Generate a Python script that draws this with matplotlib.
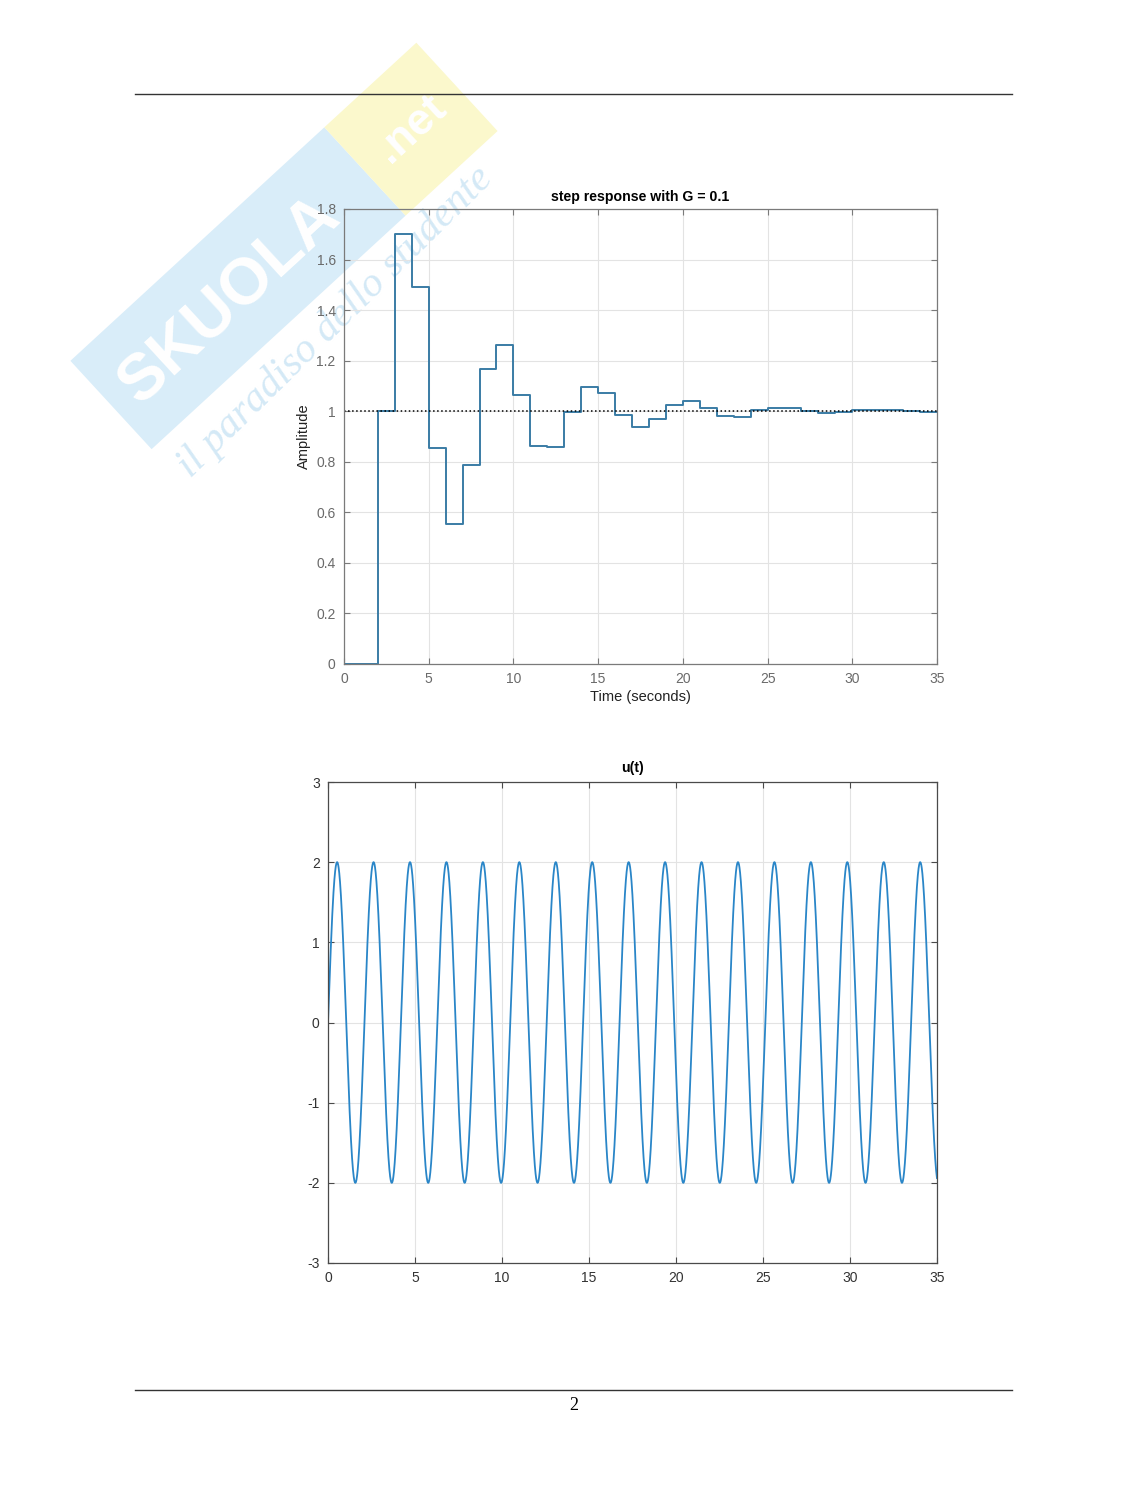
import matplotlib
matplotlib.use("Agg")
from matplotlib import pyplot as plt
from matplotlib.patches import Polygon
from matplotlib.lines import Line2D
from matplotlib.ticker import FormatStrFormatter
import numpy as np

# step response (one level per 1 s sample, held until next sample)
step_time = list(range(0, 36))
step_level = [0.0, 0.0, 1.0, 1.701, 1.490, 0.855, 0.555, 0.789, 1.167, 1.263,
              1.066, 0.864, 0.858, 0.996, 1.096, 1.074, 0.987, 0.938, 0.971, 1.024,
              1.039, 1.012, 0.983, 0.979, 1.004, 1.014, 1.011, 1.001, 0.993, 0.997,
              1.004, 1.006, 1.003, 0.999, 0.998, 0.998]
step_ref = 1.0

# u(t): amplitude 2, about 16.7 periods over 35 s
u_amp = 2.0
u_omega = 3.0
u_tmax = 35

W, H = 1148, 1485
plt.rcParams['font.family'] = ['Liberation Sans', 'DejaVu Sans']
plt.rcParams['axes.unicode_minus'] = False

fig = plt.figure(figsize=(W / 100, H / 100), dpi=100)


def px(x, y):
    return (x / W, 1 - y / H)


# page rules and page number
for yy in (94, 1390):
    fig.add_artist(Line2D([135 / W, 1012 / W], [1 - yy / H, 1 - yy / H],
                          transform=fig.transFigure, color='#333333', lw=1.0))
fig.text(574 / W, 1 - 1406 / H, '2', ha='center', va='center',
         fontsize=13, family='Liberation Serif')

# watermark (behind the axes)
th = np.deg2rad(42.6)
u = np.array([np.cos(th), -np.sin(th)])
n = np.array([np.sin(th), np.cos(th)])
p0 = np.array([111.0, 405.0])
hw, lb, ly = 60, 345, 125


def band(a, b):
    pts = [p0 + a * u - hw * n, p0 + a * u + hw * n, p0 + b * u + hw * n, p0 + b * u - hw * n]
    return [px(*p) for p in pts]


fig.add_artist(Polygon(band(0, lb), closed=True, transform=fig.transFigure,
                       facecolor='#d9edf9', edgecolor='none', zorder=-3))
fig.add_artist(Polygon(band(lb, lb + ly), closed=True, transform=fig.transFigure,
                       facecolor='#fbf8cc', edgecolor='none', zorder=-3))
c1 = p0 + 158 * u + 4 * n
fig.text(*px(*c1), 'SKUOLA', rotation=42.6, ha='center', va='center',
         fontsize=47, fontweight='bold', color='white', zorder=-2,
         rotation_mode='anchor')
c2 = p0 + (lb + ly / 2) * u
fig.text(*px(*c2), '.net', rotation=42.6, ha='center', va='center',
         fontsize=32, fontweight='bold', color='white', zorder=-2,
         rotation_mode='anchor')
fig.text(*px(335, 322), 'il paradiso dello studente', rotation=44.5,
         ha='center', va='center', fontsize=30, style='italic',
         family='Liberation Serif', color='#d4e9f6', zorder=-2,
         rotation_mode='anchor')


def matlab_axes(ax, spine_col, lab_col, fs):
    ax.set_facecolor('none')
    ax.grid(True, color='#e3e3e3', lw=0.8)
    ax.set_axisbelow(True)
    for s in ax.spines.values():
        s.set_color(spine_col)
        s.set_linewidth(0.9)
    ax.tick_params(direction='in', top=True, right=True, length=4,
                   width=0.8, color=spine_col, labelcolor=lab_col,
                   labelsize=fs, pad=6)


# top: step response
ax1 = fig.add_axes([344 / W, 1 - 664 / H, (937 - 344) / W, (664 - 209) / H])
matlab_axes(ax1, '#7a7a7a', '#6a6a6a', 10)
ax1.step(step_time, step_level, where='post', color='#3a7ca5', lw=1.4)
ax1.plot([0, 35], [step_ref, step_ref], ':', color='black', lw=1.1)
ax1.set_xlim(0, 35)
ax1.set_ylim(0, 1.8)
ax1.set_xticks(range(0, 36, 5))
ax1.set_yticks(np.arange(0, 1.81, 0.2))
ax1.yaxis.set_major_formatter(FormatStrFormatter('%g'))
ax1.set_title('step response with G = 0.1', fontsize=10.2, fontweight='bold',
              pad=6)
ax1.set_xlabel('Time (seconds)', fontsize=10.5, color='#222222', labelpad=3)
ax1.set_ylabel('Amplitude', fontsize=10.5, color='#222222', labelpad=4)

# bottom: u(t)
ax2 = fig.add_axes([328 / W, 1 - 1263 / H, (937 - 328) / W, (1263 - 782) / H])
matlab_axes(ax2, '#4a4a4a', '#333333', 10)
t = np.linspace(0, u_tmax, 4000)
ax2.plot(t, u_amp * np.sin(u_omega * t), color='#2a86c8', lw=1.3)
ax2.set_xlim(0, 35)
ax2.set_ylim(-3, 3)
ax2.set_xticks(range(0, 36, 5))
ax2.set_yticks(range(-3, 4))
ax2.set_title('u(t)', fontsize=10.2, fontweight='bold', pad=7)

fig.savefig('out.png', dpi=100)
